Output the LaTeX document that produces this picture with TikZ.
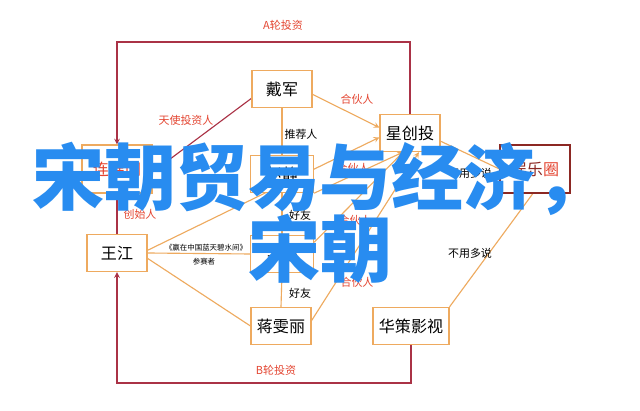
\documentclass[tikz,border=0pt]{standalone}
\usepackage{fontspec}
\setmainfont{Noto Sans CJK SC}
\usetikzlibrary{backgrounds}
\definecolor{boxorange}{RGB}{238,170,95}
\definecolor{linered}{RGB}{170,50,70}
\definecolor{labelred}{RGB}{228,70,50}
\definecolor{darkbrown}{RGB}{140,40,35}
\definecolor{titleblue}{RGB}{40,140,240}
\tikzset{
  box/.style={draw=boxorange, line width=0.8pt, fill=white, minimum width=1.5cm, minimum height=0.93cm, inner sep=1pt, font=\fontsize{11.4}{13}\selectfont},
  tag/.style={font=\fontsize{7.8}{9}\selectfont, inner sep=1pt},
  redtag/.style={tag, text=labelred},
  tinytag/.style={font=\fontsize{5.3}{6}\selectfont, inner sep=1pt},
  orangeline/.style={draw=boxorange, line width=0.8pt},
  redline/.style={draw=linered, line width=0.8pt},
  title/.style={text=titleblue, font=\fontsize{51.2}{51.2}\selectfont\bfseries, inner sep=0pt, anchor=base}
}
\begin{document}
\begin{tikzpicture}[x=0.025cm, y=-0.025cm, >=stealth]
        \useasboundingbox (0,0) rectangle (640,411);
        % boxes
        \node[box] (DJ) at (282,89) {戴军};
        \node[box] (XCT) at (410,133) {星创投};
        \node[box, minimum width=1.75cm, minimum height=1.2cm, text=labelred] (LJ) at (117,169) {连锦网};
        \node[box, minimum width=1.58cm] (ZJ) at (282,174) {赵静};
        \node[box, draw=darkbrown, minimum width=1.75cm, minimum height=1.2cm, text=darkbrown] (YLQ) at (535,169) {娱乐\textcolor{labelred}{圈}};
        \node[box] (WJ) at (117,253) {王江};
        \node[box, minimum width=1.58cm] (YN) at (282,254) {尹娜};
        \node[box] (JWL) at (281,326) {蒋雯丽};
        \node[box, minimum width=1.9cm] (HC) at (411,326) {华策影视};
        \coordinate (Atop) at (0,42);
        \coordinate (Bbot) at (0,383);

        % labels
        \node[redtag] (A) at (283,25) {A轮投资};
        \node[redtag] (B) at (276,370) {B轮投资};
        \node[redtag] (DX) at (357,99) {合伙人};
        \node[redtag] (DL) at (186,120) {天使投资人};
        \node[tag] (DZ) at (301,134) {推荐人};
        \node[redtag] (LW) at (140,214) {创始人};
        \node[tag] (ZY) at (300,215) {好友};
        \node[redtag] (WX) at (353,168) {合伙人};
        \node[redtag] (YX) at (355,220) {合伙人};
        \node[tinytag] (WY) at (206,248) {《赢在中国蓝天碧水间》};
        \node[tinytag] (WYB) at (204,262) {参赛者};
        \node[tag] (YJ) at (300,293) {好友};
        \node[redtag] (JX) at (357,282) {合伙人};
        \node[tag] (XY) at (470,173) {不用多说};
        \node[tag] (HY) at (470,253) {不用多说};

        \begin{pgfonlayer}{background}
            \fill[white] (0,0) rectangle (640,411);
            \draw[redline,->] (XCT.north) -- (XCT.north |- Atop) -| (LJ.north);
            \draw[redline,->] (HC.south) -- (HC.south |- Bbot) -| (WJ.south);
            \draw[redline,->] (DJ.197) -- (LJ.-5);
            \draw[redline] (LJ.south) -- (WJ.north);
            \draw[orangeline,->] (DJ.-10) -- (XCT.170);
            \draw[orangeline] (DJ.south) -- (ZJ.north);
            \draw[orangeline,->] (WJ.5) -- (XCT.188);
            \draw[orangeline,->] (ZJ.south east) -- (XCT.-110);
            \draw[orangeline,->] (YN.20) -- (XCT.-110);
            \draw[orangeline,->] (JWL.10) -- (XCT.-65);
            \draw[orangeline] (ZJ.south) -- (YN.north);
            \draw[orangeline] (YN.south) -- (JWL.north);
            \draw[orangeline] (WJ.east) -- (YN.west);
            \draw[orangeline] (WJ.-10) -- (JWL.west);
            \draw[orangeline] (XCT.-15) -- (YLQ.west);
            \draw[orangeline] (HC.north east) -- (YLQ.-95);
        \end{pgfonlayer}

        % overlay
        \node[title] (T1) at (320,205) {宋朝贸易与经济，};
        \node[title] (T2) at (320,277) {宋朝};
    \end{tikzpicture}
\end{document}
